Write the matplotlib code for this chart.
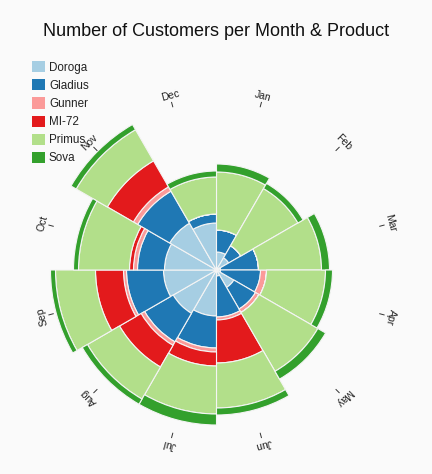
import numpy as np
import matplotlib
matplotlib.use("Agg")
import matplotlib.pyplot as plt
from matplotlib.patches import Patch

plt.rcParams['font.family'] = ['Liberation Sans', 'DejaVu Sans']

months = ['Jan', 'Feb', 'Mar', 'Apr', 'May', 'Jun',
          'Jul', 'Aug', 'Sep', 'Oct', 'Nov', 'Dec']
products = ['Doroga', 'Gladius', 'Gunner', 'MI-72', 'Primus', 'Sova']
colors = ['#a6cee3', '#1f78b4', '#fb9a99', '#e31a1c', '#b2df8a', '#33a02c']

# customers per month for each product
doroga  = [18, 14, 4, 4, 20, 6, 46, 50, 53, 52, 54, 47]
gladius = [22, 14, 38, 40, 25, 41, 32, 33, 37, 27, 37, 9]
gunner  = [0, 0, 0, 6, 4, 3, 4, 4, 3, 4, 5, 0]
mi72    = [0, 0, 0, 0, 0, 43, 14, 25, 28, 4, 30, 0]
primus  = [58, 66, 63, 59, 68, 45, 48, 37, 40, 51, 36, 37]
sova    = [8, 6, 8, 7, 9, 7, 11, 6, 5, 5, 6, 6]

series = [doroga, gladius, gunner, mi72, primus, sova]

W, H = 432, 474
cx, cy, R = 216.5, 270, 185
bg = '#fafafa'

fig = plt.figure(figsize=(W / 100, H / 100), dpi=100, facecolor=bg)
ax = fig.add_axes([(cx - R) / W, (H - cy - R) / H, 2 * R / W, 2 * R / H],
                  projection='polar')
ax.set_theta_zero_location('N')
ax.set_theta_direction(-1)
ax.set_facecolor('none')

n = len(months)
width = 2 * np.pi / n
theta = np.arange(n) * width + width / 2

bottom = np.zeros(n)
for vals, col in zip(series, colors):
    vals = np.array(vals, dtype=float)
    ax.bar(theta, vals, width=width, bottom=bottom, color=col,
           edgecolor='#f4f4f4', linewidth=0.8, align='center')
    bottom += vals

# month ticks and labels
for t, m in zip(theta, months):
    ax.plot([t, t], [169, 173.5], color='#333333', lw=0.7)
    ax.text(t, 175, m, rotation=-np.degrees(t), rotation_mode='anchor',
            ha='center', va='bottom', fontsize=7.5, color='#222222')

ax.set_ylim(0, R)
ax.grid(False)
ax.set_xticks([])
ax.set_yticks([])
ax.spines['polar'].set_visible(False)

fig.text(0.5, 1 - 31 / H, 'Number of Customers per Month & Product',
         ha='center', va='center', fontsize=13, color='#111111')

handles = [Patch(facecolor=c, edgecolor='none') for c in colors]
fig.legend(handles, products, loc='upper left',
           bbox_to_anchor=(32 / W, 1 - 61 / H), frameon=False,
           fontsize=8.4, handlelength=1.1, handleheight=1.1,
           handletextpad=0.35, labelspacing=0.48, borderaxespad=0,
           borderpad=0, labelcolor='#222222')

fig.savefig('out.png', dpi=100, facecolor=bg)
